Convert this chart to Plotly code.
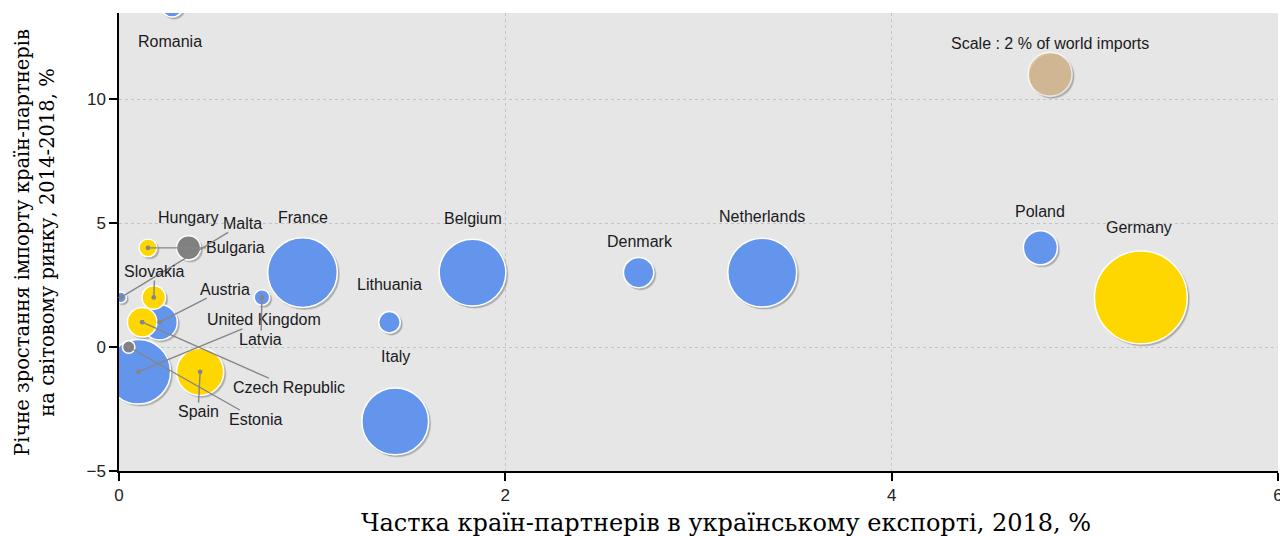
import plotly.graph_objects as go

# ---------------- data ----------------
countries = ["Romania", "Hungary", "Bulgaria", "Malta", "Slovakia", "Austria",
             "Czech Republic", "United Kingdom", "Spain", "Estonia", "Latvia",
             "France", "Belgium", "Lithuania", "Italy", "Denmark", "Netherlands",
             "Poland", "Germany"]
# share in Ukrainian exports, 2018, %
export_share = [0.275, 0.36, 0.15, 0.01, 0.18, 0.21, 0.12, 0.10, 0.42, 0.05, 0.74,
                0.95, 1.83, 1.40, 1.43, 2.69, 3.33, 4.77, 5.29]
# annual growth of partner imports on world market 2014-2018, %
import_growth = [13.75, 4, 4, 2, 2, 1, 1, -1, -1, 0, 2, 3, 3, 1, -3, 3, 3, 4, 2]
# bubble size: share of world imports, %
world_import_share = [0.5, 0.6, 0.33, 0.12, 0.57, 1.3, 0.9, 4.3, 2.3, 0.16, 0.25,
                      5.0, 4.6, 0.48, 4.6, 0.95, 4.9, 1.2, 8.9]
group = ["A", "C", "B", "A", "B", "A", "B", "A", "B", "C", "A",
         "A", "A", "A", "A", "A", "A", "A", "B"]

scale_label = "Scale : 2 % of world imports"
scale_x = [4.82]
scale_y = [11]
scale_size = [2]

x_ticks = [0, 2, 4, 6]
y_ticks = [-5, 0, 5, 10]
x_title = "Частка країн-партнерів в українському експорті, 2018, %"
y_title = "Річне зростання імпорту країн-партнерів<br>на світовому ринку, 2014-2018, %"

# ---------------- style ----------------
group_colors = {"A": "#6495ED", "B": "#FFD700", "C": "#808080"}
scale_color = "#DEB887"
W, H = 1280, 528                       # page body has an 8px margin
M = dict(l=111, r=10, t=5, b=65)
x_range = [0, 6]
y_range = [-5, 13.47]
sizeref = 1 / 484.0          # area mode: radius = sqrt(v / 2 / sizeref)

# pixel offsets (dx, dy, leader line) of the labels
label_pos = {
    "Romania": (-2, 25, False),
    "Hungary": (-1, -30, False),
    "Bulgaria": (88, 0, True),
    "Malta": (122, -74, True),
    "Slovakia": (1, -26, True),
    "Austria": (65, -33, True),
    "Czech Republic": (147, 65, True),
    "United Kingdom": (126, -52, True),
    "Spain": (-2, 40, True),
    "Estonia": (127, 72, True),
    "Latvia": (-1, 42, True),
    "France": (0, -55, False),
    "Belgium": (0, -54, False),
    "Lithuania": (0, -27, False),
    "Italy": (0, -54, False),
    "Denmark": (1, -31, False),
    "Netherlands": (0, -56, False),
    "Poland": (0, -36, False),
    "Germany": (-2, -70, False),
}

# draw largest first so small bubbles are on top
order = sorted(range(len(countries)), key=lambda i: -world_import_share[i])
xs = [export_share[i] for i in order]
ys = [import_growth[i] for i in order]
ss = [world_import_share[i] for i in order]
cs = [group_colors[group[i]] for i in order]

px_x = (W - M["l"] - M["r"]) / (x_range[1] - x_range[0])
px_y = (H - M["t"] - M["b"]) / (y_range[1] - y_range[0])
sdx, sdy = 2.0 / px_x, 2.0 / px_y


def to_paper_y(v):
    return (v - y_range[0]) / (y_range[1] - y_range[0])


fig = go.Figure()
# shadows
fig.add_trace(go.Scatter(
    x=[v + sdx for v in xs + scale_x], y=[v - sdy for v in ys + scale_y],
    mode="markers", hoverinfo="skip",
    marker=dict(size=ss + scale_size, sizemode="area", sizeref=sizeref,
                color="rgba(70,70,70,0.45)", line=dict(width=1.5, color="rgba(70,70,70,0.2)"))))
# bubbles
fig.add_trace(go.Scatter(
    x=xs, y=ys, mode="markers", text=[countries[i] for i in order],
    marker=dict(size=ss, sizemode="area", sizeref=sizeref, color=cs, opacity=1,
                line=dict(width=1.5, color="white"))))
fig.add_trace(go.Scatter(
    x=scale_x, y=scale_y, mode="markers",
    marker=dict(size=scale_size, sizemode="area", sizeref=sizeref, color=scale_color,
                line=dict(width=1.5, color="white"))))

label_font = dict(family="Liberation Sans", size=16, color="#1a1a22")
ann = []
for i, c in enumerate(countries):
    dx, dy, lead = label_pos[c]
    base = dict(x=export_share[i], y=to_paper_y(import_growth[i]), xref="x", yref="paper",
                text=c, font=label_font)
    if lead:
        base.update(showarrow=True, ax=dx, ay=dy, axref="pixel", ayref="pixel",
                    arrowhead=6, arrowsize=0.85, arrowwidth=1.4, arrowcolor="#858585",
                    borderpad=0)
    else:
        base.update(showarrow=False, xshift=dx, yshift=-dy)
    ann.append(base)
ann.append(dict(x=scale_x[0], y=to_paper_y(scale_y[0]), xref="x", yref="paper",
                text=scale_label, showarrow=False, yshift=41, font=label_font))
ann.append(dict(x=0.524, y=-0.113, xref="paper", yref="paper", text=x_title,
                showarrow=False, xanchor="center", yanchor="middle",
                font=dict(family="DejaVu Serif", size=24, color="black")))
ann.append(dict(x=-0.0725, y=0.5, xref="paper", yref="paper", text=y_title,
                showarrow=False, textangle=-90, xanchor="center", yanchor="middle",
                font=dict(family="DejaVu Serif", size=19.5, color="black")))

tick_font = dict(family="Liberation Sans", size=17, color="#222222")
fig.update_layout(
    width=W, height=H, margin=M, showlegend=False,
    plot_bgcolor="#e6e6e6", paper_bgcolor="white",
    annotations=ann,
    xaxis=dict(range=x_range, tickvals=x_ticks, showline=True, linecolor="black",
               linewidth=1.5, ticks="outside", ticklen=8, tickcolor="black", tickwidth=1.5,
               showgrid=True, gridcolor="#c4c4c4", griddash="dot", gridwidth=1,
               zeroline=False, tickfont=tick_font),
    yaxis=dict(range=y_range, tickvals=y_ticks, showline=True, linecolor="black",
               linewidth=1.5, ticks="outside", ticklen=8, tickcolor="black", tickwidth=1.5,
               showgrid=True, gridcolor="#c4c4c4", griddash="dot", gridwidth=1,
               zeroline=False, tickfont=tick_font),
)

fig.write_html("out.html")
